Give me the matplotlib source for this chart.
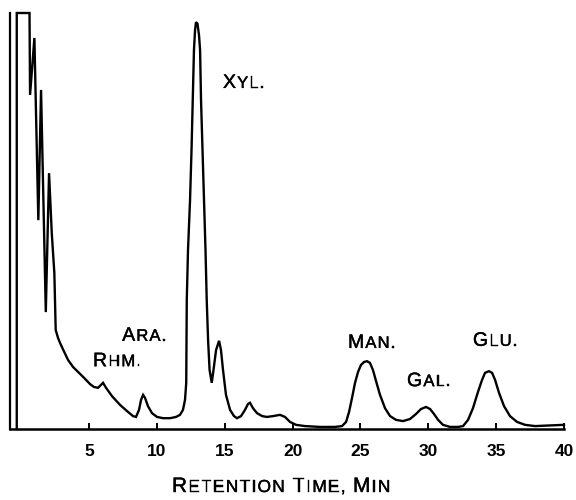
import matplotlib
matplotlib.use('Agg')
import matplotlib.pyplot as plt
import matplotlib.patheffects as pe

# chromatogram trace: retention time (min), detector response (% of full scale)
time_min = [-0.33, -0.33, 0.61, 0.65, 0.97, 1.26, 1.46, 1.81, 2.05, 2.25, 2.44, 2.54,
            2.71, 2.86, 3.10, 3.45, 3.82, 4.19, 4.63, 5.07, 5.36, 5.66, 5.88, 6.03,
            6.25, 6.69, 7.28, 7.87, 8.24, 8.46, 8.68, 8.83, 8.98, 9.12, 9.34, 9.64,
            10.01, 10.45, 10.97, 11.41, 11.70, 11.92, 12.07, 12.16, 12.20, 12.29, 12.44,
            12.55, 12.64, 12.73, 12.81, 12.88, 12.99, 13.10, 13.18, 13.25, 13.36, 13.47,
            13.58, 13.67, 13.77, 13.88, 14.04, 14.17, 14.36, 14.58, 14.72, 14.87, 15.09,
            15.39, 15.68, 15.90, 16.20, 16.49, 16.71, 16.86, 17.08, 17.38, 17.75, 18.11,
            18.56, 19.07, 19.44, 19.81, 20.25, 20.91, 22.02, 23.12, 23.64, 23.94, 24.16,
            24.38, 24.60, 24.82, 25.04, 25.26, 25.48, 25.70, 25.92, 26.15, 26.44, 26.81,
            27.18, 27.62, 28.14, 28.65, 29.09, 29.46, 29.83, 30.13, 30.42, 30.72, 31.08,
            31.60, 32.19, 32.56, 32.93, 33.29, 33.66, 33.96, 34.18, 34.47, 34.70, 34.92,
            35.21, 35.58, 36.02, 36.54, 37.13, 37.86, 40.0]
response = [0, 100, 100, 80.3, 94.0, 50.2, 81.5, 28.1, 61.5, 47.1, 37.5, 23.8,
            21.9, 20.7, 19.0, 16.6, 14.9, 13.7, 12.3, 10.8, 10.1, 9.9, 10.6, 11.1,
            9.9, 7.9, 5.8, 4.1, 3.1, 2.9, 4.6, 7.0, 8.2, 7.5, 5.5, 3.8,
            2.9, 2.6, 2.6, 2.9, 3.4, 4.6, 7.0, 11.1, 31.0, 43.0, 55.0,
            67.1, 79.1, 91.1, 95.9, 97.8, 97.4, 94.7, 91.1, 79.1, 67.1, 55.0,
            43.0, 31.0, 21.4, 14.2, 11.1, 14.2, 19.0, 21.2, 19.0, 14.2, 8.2,
            4.6, 3.1, 2.6, 3.1, 4.6, 6.0, 6.3, 5.0, 3.8, 3.1, 2.9,
            3.1, 3.4, 2.9, 1.7, 1.0, 0.7, 0.5, 0.5, 0.7, 1.7, 4.1,
            7.5, 11.1, 13.7, 15.4, 16.1, 16.3, 15.9, 14.2, 11.5, 8.2, 5.0,
            3.1, 2.2, 1.9, 2.4, 3.6, 4.8, 5.3, 4.8, 3.6, 2.2, 1.0,
            0.5, 0.5, 0.7, 2.2, 5.0, 8.9, 11.8, 13.5, 13.9, 13.5, 11.8,
            8.7, 5.5, 3.1, 1.7, 1.0, 0.7, 1.0]

# peak labels: (first letter, rest, x, y of baseline)
peak_labels = [("R", "HM.", 5.29, 15.1),
               ("A", "RA.", 7.44, 21.2),
               ("X", "YL.", 14.87, 82.0),
               ("M", "AN.", 24.08, 19.5),
               ("G", "AL.", 28.43, 10.3),
               ("G", "LU.", 33.29, 20.0)]
xticks = [5, 10, 15, 20, 25, 30, 35, 40]

plt.rcParams['font.family'] = ['Liberation Sans', 'DejaVu Sans']

fig = plt.figure(figsize=(5.76, 5.0), dpi=100)
ax = fig.add_axes([9.7/576, 1-429/500, (564-9.7)/576, 416/500])
ax.plot(time_min, response, color='black', lw=1.7, clip_on=False, solid_joinstyle='miter')
ax.set_xlim(-0.85, 40)
ax.set_ylim(0, 100)

for s in ['top', 'right']:
    ax.spines[s].set_visible(False)
ax.spines['left'].set_linewidth(1.6)
ax.spines['bottom'].set_linewidth(1.8)
ax.set_yticks([])
ax.set_xticks(xticks)
ax.set_xticklabels([str(v) for v in xticks], fontsize=12.5, fontweight='bold')
ax.tick_params(axis='x', direction='in', length=4, width=1.4, pad=11)

renderer = fig.canvas.get_renderer()
heavy = [pe.withStroke(linewidth=0.3, foreground='black')]


def small_caps(xy, pieces, coords='data', big=14, small=12, track=0.8, gap=4.5):
    # capital + small capital letters, set one by one on a common baseline with extra tracking
    dx = 0
    for s, is_big in pieces:
        if s == ' ':
            dx += gap
            continue
        for ch in s:
            t = ax.annotate(ch, xy=xy, xycoords=coords, xytext=(dx, 0), textcoords='offset points',
                            fontsize=big if is_big else small, va='baseline', ha='left',
                            annotation_clip=False, path_effects=heavy)
            dx += t.get_window_extent(renderer).width * 72 / fig.dpi + track


for first, rest, x, y in peak_labels:
    small_caps((x, y), [(first, True), (rest, False)])

small_caps((172/576, 8/500), [("R", True), ("ETENTION", False), (" ", None),
                              ("T", True), ("IME,", False), (" ", None),
                              ("M", True), ("IN", False)], coords='figure fraction',
           big=15, small=12.5, track=0.9)

fig.savefig('out.png', dpi=100)
